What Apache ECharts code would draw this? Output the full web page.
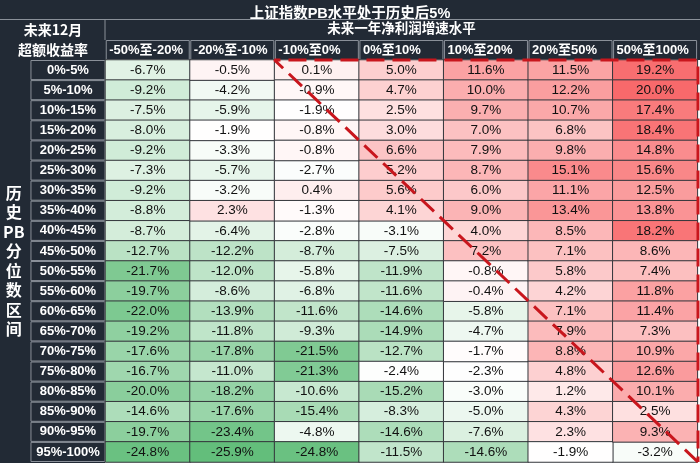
<!DOCTYPE html>
<html>
<head>
<meta charset="utf-8">
<script src="https://cdn.jsdelivr.net/npm/echarts@6/dist/echarts.min.js"></script>
<style>
html,body{margin:0;padding:0;background:#fff;}
#chart{width:700px;height:463px;}
</style>
</head>
<body>
<div id="chart"></div>
<script>
// ---- data ----
const titleText = '上证指数PB水平处于历史后5%';
const colGroupTitle = '未来一年净利润增速水平';
const rowGroupTitle = '历\n史\nPB\n分\n位\n数\n区\n间';
const cornerLines = ['未来12月', '超额收益率'];

const colHeaders = ['-50%至-20%', '-20%至-10%', '-10%至0%', '0%至10%', '10%至20%', '20%至50%', '50%至100%'];
const rowLabels = ['0%-5%', '5%-10%', '10%-15%', '15%-20%', '20%-25%', '25%-30%', '30%-35%', '35%-40%', '40%-45%', '45%-50%',
  '50%-55%', '55%-60%', '60%-65%', '65%-70%', '70%-75%', '75%-80%', '80%-85%', '85%-90%', '90%-95%', '95%-100%'];

const colM50toM20 = [-6.7, -9.2, -7.5, -8.0, -9.2, -7.3, -9.2, -8.8, -8.7, -12.7, -21.7, -19.7, -22.0, -19.2, -17.6, -16.7, -20.0, -14.6, -19.7, -24.8];
const colM20toM10 = [-0.5, -4.2, -5.9, -1.9, -3.3, -5.7, -3.2, 2.3, -6.4, -12.2, -12.0, -8.6, -13.9, -11.8, -17.8, -11.0, -18.2, -17.6, -23.4, -25.9];
const colM10to0 = [0.1, -0.9, -1.9, -0.8, -0.8, -2.7, 0.4, -1.3, -2.8, -8.7, -5.8, -6.8, -11.6, -9.3, -21.5, -21.3, -10.6, -15.4, -4.8, -24.8];
const col0to10 = [5.0, 4.7, 2.5, 3.0, 6.6, 5.2, 5.6, 4.1, -3.1, -7.5, -11.9, -11.6, -14.6, -14.9, -12.7, -2.4, -15.2, -8.3, -14.6, -11.5];
const col10to20 = [11.6, 10.0, 9.7, 7.0, 7.9, 8.7, 6.0, 9.0, 4.0, 7.2, -0.8, -0.4, -5.8, -4.7, -1.7, -2.3, -3.0, -5.0, -7.6, -14.6];
const col20to50 = [11.5, 12.2, 10.7, 6.8, 9.8, 15.1, 11.1, 13.4, 8.5, 7.1, 5.8, 4.2, 7.1, 7.9, 8.8, 4.8, 1.2, 4.3, 2.3, -1.9];
const col50to100 = [19.2, 20.0, 17.4, 18.4, 14.8, 15.6, 12.5, 13.8, 18.2, 8.6, 7.4, 11.8, 11.4, 7.3, 10.9, 12.6, 10.1, 2.5, 9.3, -3.2];

const columns = [colM50toM20, colM20toM10, colM10to0, col0to10, col10to20, col20to50, col50to100];

// ---- build ----
const FONT = '"Liberation Sans", Arial, "Noto Sans CJK SC", sans-serif';
const CJK = '"Noto Sans CJK SC", "Liberation Sans", sans-serif';
const DARK = '#222a35';
const GRIDLINE = '#8a9099';

const all = [];
columns.forEach(c => c.forEach(v => all.push(v)));
const sorted = all.slice().sort((a, b) => a - b);
const n = sorted.length;
const median = n % 2 ? sorted[(n - 1) / 2] : (sorted[n / 2 - 1] + sorted[n / 2]) / 2;
const vMin = sorted[0], vMax = sorted[n - 1];

const lowData = [], highData = [];
columns.forEach((col, ci) => col.forEach((v, ri) => {
  (v <= median ? lowData : highData).push([ci, ri, v]);
}));

const diagStartCol = colHeaders.indexOf('-10%至0%');
const nCols = colHeaders.length, nRows = rowLabels.length;
const triangle = [[nCols, nRows], [diagStartCol, 0], [nCols, 0], [nCols, nRows]];

const cellLabel = {
  show: true,
  formatter: p => p.value[2].toFixed(1) + '%',
  color: '#111',
  fontSize: 13.5,
  fontFamily: FONT
};
const cellStyle = { borderColor: '#33363b', borderWidth: 1 };

const chart = echarts.init(document.getElementById('chart'), null, { renderer: 'canvas' });
const option = {
  backgroundColor: '#ffffff',
  animation: false,
  title: {
    text: titleText, left: 'center', top: 2,
    textStyle: { color: '#fff', fontSize: 14.5, fontWeight: 'bold', fontFamily: FONT }
  },
  graphic: [
    { type: 'rect', shape: { x: 0, y: 0, width: 700, height: 60 }, style: { fill: DARK }, z: -1, silent: true },
    { type: 'rect', shape: { x: 0, y: 60, width: 105, height: 403 }, style: { fill: DARK }, z: -1, silent: true },
    { type: 'line', shape: { x1: 0, y1: 19.5, x2: 700, y2: 19.5 }, style: { stroke: GRIDLINE, lineWidth: 1 }, z: 50, silent: true },
    { type: 'line', shape: { x1: 105, y1: 20, x2: 105, y2: 40 }, style: { stroke: GRIDLINE, lineWidth: 1 }, z: 50, silent: true },
    { type: 'text', style: { text: cornerLines[0], x: 53, y: 30, align: 'center', verticalAlign: 'middle', fill: '#fff', font: 'bold 14px ' + CJK }, z: 50 },
    { type: 'text', style: { text: cornerLines[1], x: 53, y: 50, align: 'center', verticalAlign: 'middle', fill: '#fff', font: 'bold 14px ' + CJK }, z: 50 }
  ],
  grid: [
    { left: 105, top: 60, right: 2, height: 402, containLabel: false },
    { left: 105, top: 60, right: 2, height: 402, containLabel: false }
  ],
  xAxis: [
    {
      type: 'category', data: colHeaders, position: 'top', gridIndex: 0,
      axisLine: { show: false }, axisTick: { show: false }, splitLine: { show: false },
      axisLabel: {
        interval: 0, margin: 10, align: 'center', verticalAlign: 'middle',
        formatter: v => '{h|' + v + '}',
        rich: {
          h: {
            width: 80, height: 19, padding: [0, 0, 0, 3], align: 'left', verticalAlign: 'middle',
            color: '#fff', fontWeight: 'bold', fontSize: 13, fontFamily: FONT,
            borderColor: GRIDLINE, borderWidth: 1
          }
        }
      },
      name: colGroupTitle, nameLocation: 'middle', nameGap: 30,
      nameTextStyle: { color: '#fff', fontWeight: 'bold', fontSize: 13.5, fontFamily: CJK, verticalAlign: 'middle' }
    },
    { type: 'value', gridIndex: 1, min: 0, max: nCols, show: false }
  ],
  yAxis: [
    {
      type: 'category', data: rowLabels, inverse: true, gridIndex: 0,
      axisLine: { show: false }, axisTick: { show: false }, splitLine: { show: false },
      axisLabel: {
        interval: 0, margin: 37.5, align: 'center', verticalAlign: 'middle',
        formatter: v => '{r|' + v + '}',
        rich: {
          r: {
            width: 74, height: 19.1, align: 'center', verticalAlign: 'middle',
            color: '#fff', fontWeight: 'bold', fontSize: 13, fontFamily: FONT,
            borderColor: GRIDLINE, borderWidth: 1
          }
        }
      },
      name: rowGroupTitle,
      nameLocation: 'middle', nameRotate: 0, nameGap: 90,
      nameTextStyle: { color: '#fff', fontWeight: 'bold', fontSize: 16, lineHeight: 19.5, align: 'center', verticalAlign: 'middle', fontFamily: CJK }
    },
    { type: 'value', gridIndex: 1, min: 0, max: nRows, inverse: true, show: false }
  ],
  visualMap: [
    { type: 'continuous', seriesIndex: 0, dimension: 2, min: vMin, max: median, show: false, inRange: { color: ['#63BE7B', '#FFFFFF'] } },
    { type: 'continuous', seriesIndex: 1, dimension: 2, min: median, max: vMax, show: false, inRange: { color: ['#FFFFFF', '#F8696B'] } }
  ],
  series: [
    { type: 'heatmap', xAxisIndex: 0, yAxisIndex: 0, data: lowData, label: cellLabel, itemStyle: cellStyle, emphasis: { disabled: true } },
    { type: 'heatmap', xAxisIndex: 0, yAxisIndex: 0, data: highData, label: cellLabel, itemStyle: cellStyle, emphasis: { disabled: true } },
    {
      type: 'line', xAxisIndex: 1, yAxisIndex: 1, data: triangle, symbol: 'none', clip: false, z: 10,
      lineStyle: { color: '#c8161d', width: 3, type: [18, 8] }, silent: true
    }
  ]
};
chart.setOption(option);
</script>
</body>
</html>
